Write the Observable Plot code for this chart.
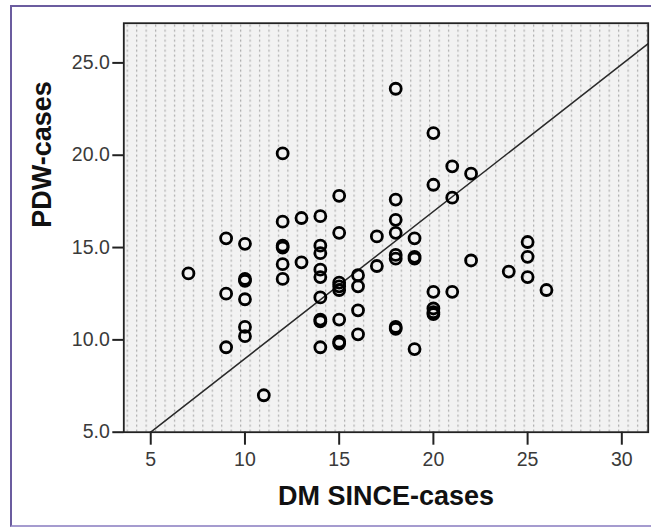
<!DOCTYPE html>
<html>
<head>
<meta charset="utf-8">
<script src="https://cdn.jsdelivr.net/npm/d3@7"></script>
<script src="https://cdn.jsdelivr.net/npm/@observablehq/plot@0.6"></script>
<style>
  html, body { margin: 0; padding: 0; background: #fff; }
  #wrap { position: relative; width: 651px; height: 529px; overflow: hidden; }
  #border { position: absolute; left: 10px; top: 5px; width: 660px; height: 522px;
            box-sizing: border-box; border: 2px solid #6b5c9f; border-bottom-color: #a59bcf; border-right: none; pointer-events: none; }
</style>
</head>
<body>
<div id="wrap"><div id="border"></div></div>
<script>
// DM SINCE-cases (x) and PDW-cases (y)
const dmSince = [
  7,
  9, 9, 9,
  10, 10, 10, 10, 10, 10,
  11,
  12, 12, 12, 12, 12, 12,
  13, 13,
  14, 14, 14, 14, 14, 14, 14, 14, 14,
  15, 15, 15, 15, 15, 15, 15, 15,
  16, 16, 16, 16,
  17, 17,
  18, 18, 18, 18, 18, 18, 18, 18,
  19, 19, 19, 19,
  20, 20, 20, 20, 20, 20,
  21, 21, 21,
  22, 22,
  24,
  25, 25, 25,
  26
];
const pdw = [
  13.6,
  15.5, 12.5, 9.6,
  15.2, 13.2, 13.3, 12.2, 10.7, 10.2,
  7.0,
  20.1, 16.4, 15.0, 15.1, 14.1, 13.3,
  16.6, 14.2,
  16.7, 15.1, 14.7, 13.8, 13.4, 12.3, 11.0, 11.1, 9.6,
  17.8, 15.8, 13.1, 12.9, 12.7, 11.1, 9.8, 9.9,
  13.5, 12.9, 11.6, 10.3,
  15.6, 14.0,
  23.6, 17.6, 16.5, 15.8, 14.6, 14.4, 10.6, 10.7,
  15.5, 14.5, 14.4, 9.5,
  21.2, 18.4, 12.6, 11.7, 11.5, 11.4,
  19.4, 17.7, 12.6,
  19.0, 14.3,
  13.7,
  15.3, 14.5, 13.4,
  12.7
];
// fit line parameters (y = intercept + slope * x)
const fitIntercept = 1.015;
const fitSlope = 0.797;

const xTicks = [5, 10, 15, 20, 25, 30];
const yTicks = [5, 10, 15, 20, 25];
const xDomain = [3.57, 31.4];
const yDomain = [5, 27.15];
const xTitle = "DM SINCE-cases";
const yTitle = "PDW-cases";

const points = dmSince.map((d, i) => ({x: d, y: pdw[i]}));
const fitX0 = (yDomain[0] - fitIntercept) / fitSlope;
const fitPts = [fitX0, xDomain[1]].map(x => ({x, y: fitIntercept + fitSlope * x}));

const ML = 123.3, MR = 3.3, MT = 22.7, MB = 97.3;

function patternDefs() {
  const defs = d3.create("svg:defs");
  const p = defs.append("pattern")
    .attr("id", "dotpat")
    .attr("patternUnits", "userSpaceOnUse")
    .attr("x", ML).attr("y", MT)
    .attr("width", 9.45).attr("height", 5);
  p.append("rect").attr("width", 9.45).attr("height", 5).attr("fill", "#f2f2f2");
  p.append("rect").attr("x", 3).attr("y", 1.5).attr("width", 1).attr("height", 2).attr("fill", "#9a9a9a");
  return defs.node();
}

const chart = Plot.plot({
  width: 651,
  height: 529,
  marginLeft: ML,
  marginRight: MR,
  marginTop: MT,
  marginBottom: MB,
  x: {domain: xDomain},
  y: {domain: yDomain},
  style: {
    fontFamily: "'Liberation Sans', Arial, sans-serif",
    fontSize: "19.5px",
    color: "#222",
    background: "transparent",
    overflow: "visible"
  },
  marks: [
    patternDefs,
    Plot.frame({fill: "url(#dotpat)"}),
    Plot.line(fitPts, {x: "x", y: "y", stroke: "#2a2a2a", strokeWidth: 1.5}),
    Plot.dot(points, {x: "x", y: "y", r: 5.5, stroke: "#000", strokeWidth: 2.8, fill: "none"}),
    Plot.frame({stroke: "#222", strokeWidth: 1.8}),
    Plot.axisX({ticks: xTicks, tickSize: 13, tickPadding: 7, label: null, strokeWidth: 2, fill: "#3a3a3a"}),
    Plot.axisY({ticks: yTicks, tickFormat: d => d.toFixed(1), tickSize: 11, tickPadding: 3, label: null, strokeWidth: 2, fill: "#3a3a3a"}),
    Plot.text([xTitle], {text: d => d, frameAnchor: "bottom", dy: 72.7, fontSize: 27, fontWeight: "bold", fill: "#111"}),
    Plot.text([yTitle], {text: d => d, frameAnchor: "left", dx: -81.5, rotate: -90, fontSize: 27, fontWeight: "bold", fill: "#111"})
  ]
});
document.getElementById("wrap").prepend(chart);
</script>
</body>
</html>
